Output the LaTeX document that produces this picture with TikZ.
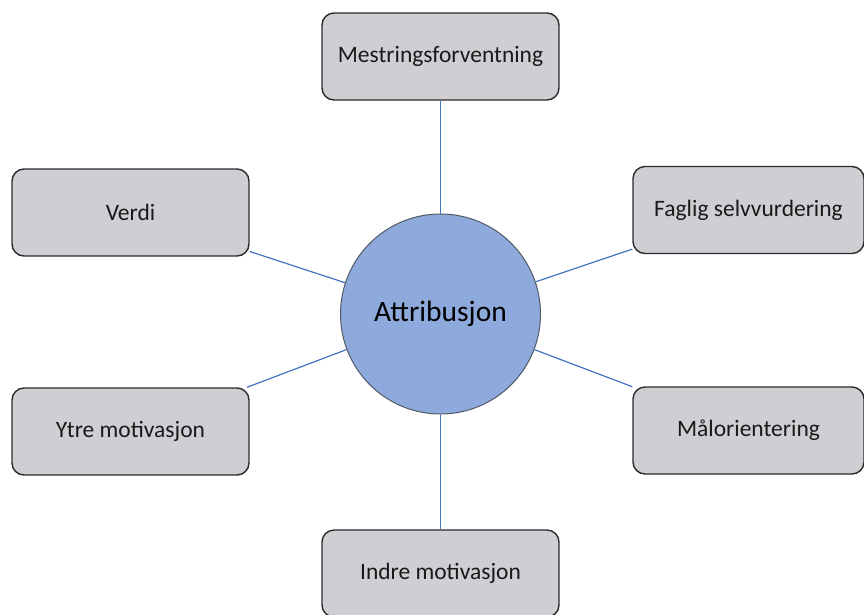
\documentclass[tikz,border=0pt]{standalone}
\usepackage{fontspec}
\setmainfont{Carlito}
\definecolor{boxfill}{HTML}{D0CED3}
\definecolor{boxline}{HTML}{2B2B2B}
\definecolor{hubfill}{HTML}{8EA9DB}
\definecolor{hubline}{HTML}{505A66}
\definecolor{link}{HTML}{4472C4}
\begin{document}
\begin{tikzpicture}[x=1pt,y=-1pt,
  topic/.style={draw=boxline, fill=boxfill, line width=1.4pt, rounded corners=12pt,
    minimum width=237pt, minimum height=87pt, inner sep=0pt,
    font=\fontsize{23.5}{27}\selectfont, text=black!90},
  hub/.style={circle, draw=hubline, fill=hubfill, line width=1pt,
    minimum size=200pt, inner sep=0pt, font=\fontsize{29.5}{34}\selectfont, text=black},
  spoke/.style={draw=link, line width=1.2pt}]
\useasboundingbox (0,0) rectangle (864,614);
\clip (0,0) rectangle (864,614);
% central concept
\node[hub] (c) at (440.5,314) {Attribusjon};
% surrounding concepts
\node[topic] (mf) at (440.5,56.5) {Mestringsforventning};
\node[topic] (ve) at (130.5,212.5) {Verdi};
\node[topic, minimum width=231pt] (fs) at (748.5,210) {Faglig selvvurdering};
\node[topic] (ym) at (130.5,431.5) {Ytre motivasjon};
\node[topic, minimum width=231pt] (mo) at (748.5,430.5) {Målorientering};
\node[topic] (im) at (440.5,573.5) {Indre motivasjon};
% spokes
\foreach \t in {mf,ve,fs,ym,mo,im}
  \path[spoke] (c) -- (\t);
\end{tikzpicture}
\end{document}
